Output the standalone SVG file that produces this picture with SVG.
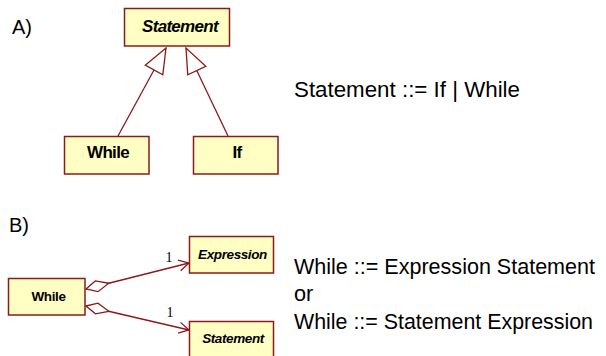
<svg xmlns="http://www.w3.org/2000/svg" width="606" height="356" viewBox="0 0 606 356">
<style>
  .box { fill: #FFFFC4; stroke: #8B1A1A; stroke-width: 1.5; }
  .lbl { font-family: "Liberation Sans", Arial, sans-serif; font-weight: bold; fill: #000; text-anchor: middle; }
  .big { font-size: 17px; letter-spacing: -0.7px; }
  .small { font-size: 13.5px; letter-spacing: -0.4px; }
  .it { font-style: italic; }
  .txt { font-family: "Liberation Sans", Arial, sans-serif; font-size: 21.7px; fill: #000; }
  .hdr { font-family: "Liberation Sans", Arial, sans-serif; font-size: 20px; fill: #000; }
  .mult { font-family: "Liberation Serif", "Times New Roman", serif; font-size: 14px; fill: #000; text-anchor: middle; }
  .conn { stroke: #8B1A1A; stroke-width: 1.3; fill: none; }
</style>
<defs>
  <marker id="tri" markerUnits="userSpaceOnUse" markerWidth="27" markerHeight="22" refX="25" refY="10" orient="auto" overflow="visible">
    <path d="M0,0 L25,10 L0,20 Z" fill="#fff" stroke="#8B1A1A" stroke-width="1.3"/>
  </marker>
  <marker id="dia" markerUnits="userSpaceOnUse" markerWidth="26" markerHeight="14" refX="0" refY="5.5" orient="auto" overflow="visible">
    <path d="M0,5.5 L11,0 L23.5,5.5 L11,11 Z" fill="#fff" stroke="#8B1A1A" stroke-width="1.3"/>
  </marker>
  <marker id="open" markerUnits="userSpaceOnUse" markerWidth="12" markerHeight="12" refX="10" refY="5.5" orient="auto" overflow="visible">
    <path d="M0,0 L10,5.5 L0,11" fill="none" stroke="#8B1A1A" stroke-width="1.3"/>
  </marker>
</defs>
<rect width="606" height="356" fill="#fff"/>

<text class="hdr" x="12" y="34">A)</text>
<text class="hdr" x="9" y="232">B)</text>

<g id="connectors">
  <line class="conn" x1="118" y1="136" x2="166" y2="48" marker-end="url(#tri)"/>
  <line class="conn" x1="228" y1="136" x2="186" y2="48" marker-end="url(#tri)"/>
  <line class="conn" x1="86" y1="289" x2="189" y2="263" marker-start="url(#dia)" marker-end="url(#open)"/>
  <line class="conn" x1="86" y1="306" x2="189" y2="330" marker-start="url(#dia)" marker-end="url(#open)"/>
  <text class="mult" x="169" y="262">1</text>
  <text class="mult" x="170" y="317">1</text>
</g>

<g id="statementA">
  <rect class="box" x="124.5" y="8.5" width="105" height="37.5"/>
  <text class="lbl big it" x="180" y="32">Statement</text>
</g>
<g id="whileA">
  <rect class="box" x="64.5" y="136.5" width="84.5" height="37.5"/>
  <text class="lbl big" x="108" y="158">While</text>
</g>
<g id="ifA">
  <rect class="box" x="193.5" y="136.5" width="84.5" height="37.5"/>
  <text class="lbl big" x="237" y="158">If</text>
</g>

<g id="whileB">
  <rect class="box" x="8.5" y="278.5" width="76.5" height="36.5"/>
  <text class="lbl small" x="48.5" y="301">While</text>
</g>
<g id="expressionB">
  <rect class="box" x="189.5" y="236.5" width="84" height="36.5"/>
  <text class="lbl small it" x="232.5" y="259">Expression</text>
</g>
<g id="statementB">
  <rect class="box" x="189.5" y="321.5" width="84" height="40"/>
  <text class="lbl small it" x="233" y="343">Statement</text>
</g>

<text class="txt" x="294" y="97" textLength="226" lengthAdjust="spacingAndGlyphs">Statement ::= If | While</text>
<text class="txt" x="294" y="274" textLength="301" lengthAdjust="spacingAndGlyphs">While ::= Expression Statement</text>
<text class="txt" x="294" y="301">or</text>
<text class="txt" x="294" y="329" textLength="299" lengthAdjust="spacingAndGlyphs">While ::= Statement Expression</text>
</svg>
